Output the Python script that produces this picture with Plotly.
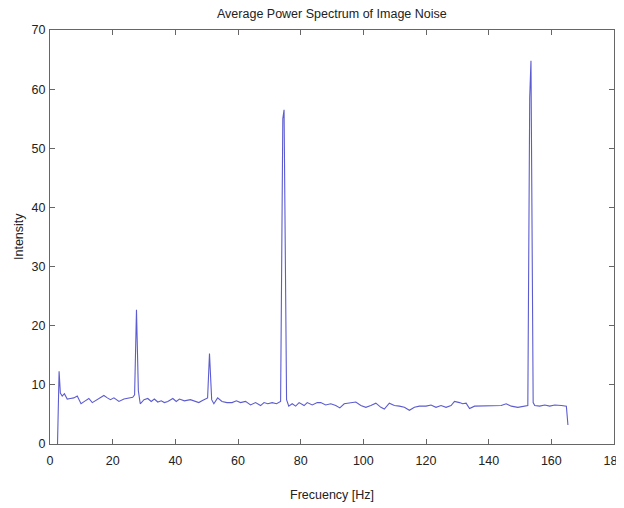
import plotly.graph_objects as go

freq = [2.4, 2.9, 3.3, 3.9, 4.6, 5.5, 6.5, 7.6, 8.7, 9.9,
        11.0, 12.4, 13.5, 14.5, 15.6, 17.2, 18.3, 19.3, 20.4, 22.0,
        23.6, 25.2, 26.4, 27.0, 27.6, 28.2, 28.8, 30.0, 31.2, 32.3,
        33.3, 34.4, 35.5, 36.5, 37.6, 39.2, 40.3, 41.3, 42.9, 44.8,
        46.4, 47.5, 48.5, 49.6, 50.3, 50.9, 51.6, 52.3, 53.5, 54.9,
        56.5, 58.1, 59.5, 60.8, 62.4, 64.0, 65.6, 67.2, 68.3, 69.5,
        70.9, 72.3, 73.6, 74.3, 74.7, 75.5, 76.2, 77.3, 78.4, 79.5,
        81.1, 82.1, 83.7, 85.3, 86.4, 88.0, 89.6, 91.2, 92.5, 93.9,
        95.5, 97.6, 99.2, 100.8, 102.4, 104.0, 105.6, 106.7, 108.3, 109.9,
        111.5, 113.1, 114.7, 116.3, 117.9, 120.0, 121.6, 123.2, 124.8, 126.4,
        128.0, 129.1, 130.7, 131.7, 132.8, 133.9, 135.5, 137.6, 139.7, 141.9,
        144.0, 145.6, 147.2, 149.3, 151.0, 152.5, 153.1, 153.5, 154.2, 154.7,
        156.3, 157.9, 159.5, 161.1, 163.2, 164.8, 165.3]

intensity = [0.0, 12.3, 8.6, 8.1, 8.5, 7.6, 7.7, 7.8, 8.1, 6.8,
             7.2, 7.7, 7.0, 7.3, 7.7, 8.2, 7.8, 7.5, 7.8, 7.2,
             7.6, 7.8, 7.9, 8.3, 22.7, 9.0, 6.8, 7.5, 7.7, 7.2,
             7.6, 7.1, 7.3, 7.0, 7.2, 7.7, 7.2, 7.6, 7.3, 7.5,
             7.2, 7.0, 7.3, 7.6, 7.8, 15.3, 7.5, 6.8, 7.8, 7.2,
             7.0, 7.0, 7.3, 7.0, 7.2, 6.6, 7.0, 6.5, 7.0, 6.8,
             7.0, 6.8, 7.2, 55.0, 56.5, 7.5, 6.4, 6.8, 6.4, 7.0,
             6.5, 7.0, 6.6, 7.0, 7.0, 6.6, 6.8, 6.5, 6.1, 6.8,
             6.9, 7.1, 6.5, 6.2, 6.5, 6.9, 6.2, 5.9, 6.9, 6.5,
             6.4, 6.2, 5.7, 6.2, 6.4, 6.4, 6.6, 6.2, 6.5, 6.2,
             6.5, 7.2, 7.0, 6.8, 6.9, 6.0, 6.4, 6.4, 6.5, 6.4,
             6.5, 6.8, 6.4, 6.2, 6.4, 6.5, 58.6, 64.8, 7.0, 6.5,
             6.4, 6.6, 6.4, 6.6, 6.5, 6.4, 3.2]

x_ticks = [0, 20, 40, 60, 80, 100, 120, 140, 160, 180]
y_ticks = [0, 10, 20, 30, 40, 50, 60, 70]

title_text = "Average Power Spectrum of Image Noise"
x_label = "Frecuency [Hz]"
y_label = "Intensity"

FONT = "Liberation Sans, Arial, sans-serif"
TXT = "#222222"

fig = go.Figure()
fig.add_trace(go.Scatter(x=freq, y=intensity, mode="lines",
                         line=dict(color="#5c5cd0", width=1.1),
                         hoverinfo="skip", showlegend=False))

axis_common = dict(showgrid=False, zeroline=False, showline=True,
                   linecolor="#666666", linewidth=1, mirror="ticks",
                   ticks="inside", ticklen=5, tickcolor="#666666",
                   tickfont=dict(family=FONT, size=12.5, color=TXT))

fig.update_xaxes(range=[0, 180], tickvals=x_ticks, ticktext=[str(v) for v in x_ticks],
                 ticklabelstandoff=5, **axis_common)
fig.update_yaxes(range=[0, 70], tickvals=y_ticks, ticktext=[str(v) for v in y_ticks],
                 ticklabelstandoff=1, **axis_common)

fig.update_layout(
    width=624, height=508,
    margin=dict(l=42, r=18, t=22, b=72, autoexpand=False),
    paper_bgcolor="white", plot_bgcolor="white",
    font=dict(family=FONT, size=12, color=TXT),
    annotations=[
        dict(text=title_text, xref="paper", yref="paper", x=0.5, y=1,
             yshift=16, xanchor="center", yanchor="middle", showarrow=False,
             font=dict(family=FONT, size=12.5, color=TXT)),
        dict(text=x_label, xref="paper", yref="paper", x=0.5, y=0,
             yshift=-51, xanchor="center", yanchor="middle", showarrow=False,
             font=dict(family=FONT, size=12.5, color=TXT)),
        dict(text=y_label, xref="paper", yref="paper", x=0, y=0.5,
             xshift=-31, xanchor="center", yanchor="middle", showarrow=False,
             textangle=-90, font=dict(family=FONT, size=12.5, color=TXT)),
    ],
)

fig.write_html("out.html")
